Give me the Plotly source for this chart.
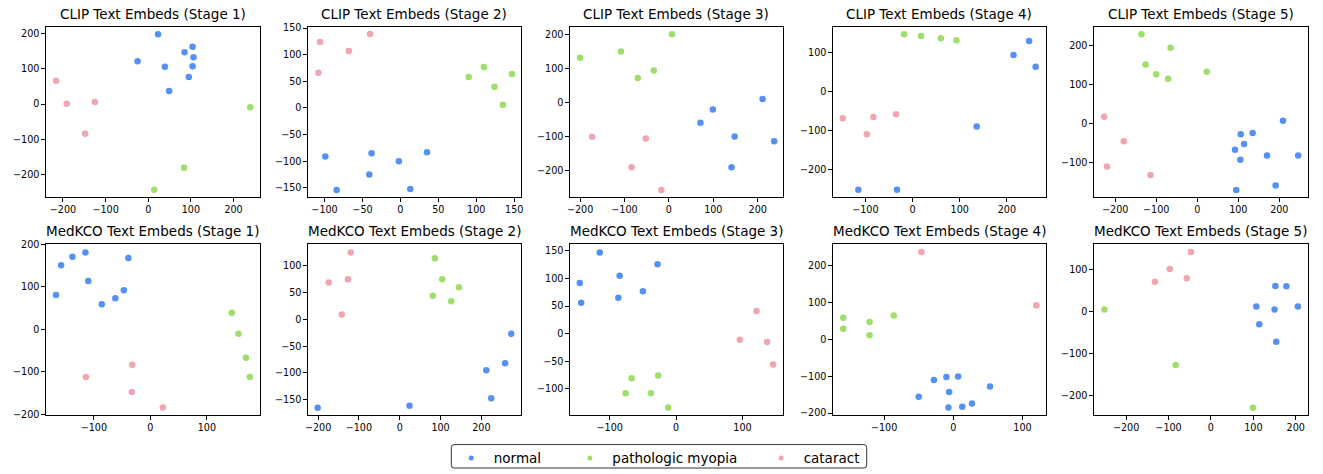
import plotly.graph_objects as go

W, H = 1323, 474
classes = ["normal", "pathologic myopia", "cataract"]
colors = ["rgba(66,133,244,0.9)", "rgba(150,218,90,0.9)", "rgba(238,155,168,0.9)"]

titles = [f"CLIP Text Embeds (Stage {i})" for i in range(1, 6)] + \
         [f"MedKCO Text Embeds (Stage {i})" for i in range(1, 6)]

# ---- CLIP Text Embeds ----
clip1_normal_x = [23, -25, 39, 85, 104, 106, 104, 95, 49]
clip1_normal_y = [197, 121, 105, 146, 162, 132, 107, 76, 37]
clip1_myopia_x = [239, 84, 14]
clip1_myopia_y = [-9, -180, -242]
clip1_cataract_x = [-216, -191, -125, -148]
clip1_cataract_y = [66, 1, 6, -84]

clip2_normal_x = [-99, -38, -41, -84, -2, 13, 35]
clip2_normal_y = [-91, -85, -125, -154, -100, -152, -83]
clip2_myopia_x = [90, 110, 124, 135, 147]
clip2_myopia_y = [58, 77, 40, 6, 64]
clip2_cataract_x = [-106, -68, -40, -108]
clip2_cataract_y = [124, 107, 139, 66]

clip3_normal_x = [211, 99, 71, 148, 237, 141]
clip3_normal_y = [10, -21, -60, -100, -114, -191]
clip3_myopia_x = [-200, -108, 7, -34, -70]
clip3_myopia_y = [132, 150, 201, 94, 72]
clip3_cataract_x = [-173, -52, -84, -17]
clip3_cataract_y = [-101, -106, -191, -258]

clip4_normal_x = [247, 214, 261, 136, -115, -33]
clip4_normal_y = [130, 94, 64, -89, -251, -251]
clip4_myopia_x = [-18, 18, 60, 93]
clip4_myopia_y = [147, 143, 137, 132]
clip4_cataract_x = [-148, -83, -35, -97]
clip4_cataract_y = [-68, -65, -58, -109]

clip5_normal_x = [209, 135, 106, 114, 92, 105, 170, 246, 191, 95]
clip5_normal_y = [7, -25, -28, -53, -68, -94, -83, -83, -160, -172]
clip5_myopia_x = [-136, -65, -126, -100, -71, 23]
clip5_myopia_y = [230, 195, 152, 127, 115, 133]
clip5_cataract_x = [-227, -179, -220, -114]
clip5_cataract_y = [17, -46, -111, -133]

# ---- MedKCO Text Embeds ----
med1_normal_x = [-167, -158, -138, -115, -110, -86, -62, -47, -39]
med1_normal_y = [81, 151, 171, 181, 114, 59, 73, 92, 168]
med1_myopia_x = [144, 156, 169, 176]
med1_myopia_y = [39, -10, -67, -112]
med1_cataract_x = [-114, -32, -33, 22]
med1_cataract_y = [-112, -83, -147, -184]

med2_normal_x = [273, 258, 212, 224, 24, -201]
med2_normal_y = [-27, -82, -95, -147, -161, -165]
med2_myopia_x = [86, 104, 145, 81, 126]
med2_myopia_y = [114, 75, 60, 44, 34]
med2_cataract_x = [-120, -174, -127, -142]
med2_cataract_y = [125, 69, 75, 9]

med3_normal_x = [-115, -145, -143, -85, -87, -50, -28]
med3_normal_y = [147, 92, 56, 105, 65, 77, 126]
med3_myopia_x = [-67, -27, -76, -38, -12]
med3_myopia_y = [-81, -76, -108, -108, -134]
med3_cataract_x = [121, 96, 137, 146]
med3_cataract_y = [41, -11, -15, -56]

med4_normal_x = [-28, -10, 7, -6, -50, 53, 27, 13, -7]
med4_normal_y = [-110, -102, -101, -143, -156, -128, -174, -183, -185]
med4_myopia_x = [-159, -159, -121, -121, -86]
med4_myopia_y = [59, 29, 47, 11, 65]
med4_cataract_x = [-46, 120]
med4_cataract_y = [237, 93]

med5_normal_x = [152, 178, 107, 150, 205, 114, 154]
med5_normal_y = [61, 60, 12, 5, 12, -30, -72]
med5_myopia_x = [-251, -83, 99]
med5_myopia_y = [5, -127, -229]
med5_cataract_x = [-47, -97, -132, -57]
med5_cataract_y = [142, 101, 71, 79]

panels = [
    [(clip1_normal_x, clip1_normal_y), (clip1_myopia_x, clip1_myopia_y), (clip1_cataract_x, clip1_cataract_y)],
    [(clip2_normal_x, clip2_normal_y), (clip2_myopia_x, clip2_myopia_y), (clip2_cataract_x, clip2_cataract_y)],
    [(clip3_normal_x, clip3_normal_y), (clip3_myopia_x, clip3_myopia_y), (clip3_cataract_x, clip3_cataract_y)],
    [(clip4_normal_x, clip4_normal_y), (clip4_myopia_x, clip4_myopia_y), (clip4_cataract_x, clip4_cataract_y)],
    [(clip5_normal_x, clip5_normal_y), (clip5_myopia_x, clip5_myopia_y), (clip5_cataract_x, clip5_cataract_y)],
    [(med1_normal_x, med1_normal_y), (med1_myopia_x, med1_myopia_y), (med1_cataract_x, med1_cataract_y)],
    [(med2_normal_x, med2_normal_y), (med2_myopia_x, med2_myopia_y), (med2_cataract_x, med2_cataract_y)],
    [(med3_normal_x, med3_normal_y), (med3_myopia_x, med3_myopia_y), (med3_cataract_x, med3_cataract_y)],
    [(med4_normal_x, med4_normal_y), (med4_myopia_x, med4_myopia_y), (med4_cataract_x, med4_cataract_y)],
    [(med5_normal_x, med5_normal_y), (med5_myopia_x, med5_myopia_y), (med5_cataract_x, med5_cataract_y)],
]

x_ranges = [[-240, 262], [-122, 159], [-223, 257], [-169, 283], [-252, 270],
            [-185, 194], [-225, 297], [-160, 161], [-174, 134], [-276, 229]]
y_ranges = [[-264, 219], [-168, 153], [-280, 224], [-271, 167], [-191, 250],
            [-202, 200], [-179, 140], [-148, 162], [-206, 258], [-247, 160]]
x_dticks = [100, 50, 100, 100, 100, 100, 100, 100, 100, 100]
y_dticks = [100, 50, 100, 100, 100, 100, 50, 50, 100, 100]

cols_px = [(43, 258), (306, 520), (569, 783), (833, 1047), (1095, 1310)]
rows_px = [(21, 196), (244, 419)]

fig = go.Figure()
layout = dict(
    width=W, height=H,
    margin=dict(l=0, r=0, t=0, b=0),
    paper_bgcolor="white", plot_bgcolor="white",
    font=dict(family="DejaVu Sans", color="black"),
    showlegend=True,
)
annotations = []
axis_common = dict(showgrid=False, zeroline=False, showline=True, mirror=True,
                   linecolor="black", linewidth=1, ticks="outside", ticklen=3.5,
                   tickwidth=0.8, tickcolor="black", tick0=0,
                   tickfont=dict(family="DejaVu Sans", size=9.6, color="black"))

for i in range(10):
    r, c = divmod(i, 5)
    k = "" if i == 0 else str(i + 1)
    x0, x1 = cols_px[c]
    yt, yb = rows_px[r]
    xd = [x0 / W, x1 / W]
    yd = [1 - yb / H, 1 - yt / H]
    layout["xaxis" + k] = dict(axis_common, domain=xd, range=x_ranges[i], dtick=x_dticks[i],
                               anchor="y" + k)
    layout["yaxis" + k] = dict(axis_common, domain=yd, range=y_ranges[i], dtick=y_dticks[i],
                               anchor="x" + k)
    for j, (xs, ys) in enumerate(panels[i]):
        fig.add_trace(go.Scatter(x=xs, y=ys, mode="markers", xaxis="x" + k, yaxis="y" + k,
                                 marker=dict(size=6.5, color=colors[j], line=dict(width=0)),
                                 name=classes[j], showlegend=False))
    annotations.append(dict(text=titles[i], x=(xd[0] + xd[1]) / 2, y=yd[1], xref="paper",
                            yref="paper", xanchor="center", yanchor="bottom", yshift=3,
                            showarrow=False, font=dict(family="DejaVu Sans", size=13.5, color="black")))

# legend: three borderless legends inside one rounded frame
legend_names = ["legend", "legend2", "legend3"]
legend_left_px = [447.5, 566.5, 758.5]
for j in range(3):
    fig.add_trace(go.Scatter(x=[None], y=[None], mode="markers", name=classes[j],
                             marker=dict(size=5, color=colors[j]), showlegend=True,
                             legend=legend_names[j]))
    layout[legend_names[j]] = dict(x=legend_left_px[j] / W, xanchor="left",
                                   y=1 - 463 / H, yanchor="middle", orientation="h",
                                   borderwidth=0, bgcolor="rgba(0,0,0,0)", itemwidth=35,
                                   font=dict(family="DejaVu Sans", size=13.5, color="black"))

bx0, bx1, by0, by1 = 450, 867, 449, 473
rad = 3
def px(x):
    return x / W
def py(y):
    return 1 - y / H
path = (f"M {px(bx0 + rad)} {py(by0)} L {px(bx1 - rad)} {py(by0)} "
        f"Q {px(bx1)} {py(by0)} {px(bx1)} {py(by0 + rad)} L {px(bx1)} {py(by1 - rad)} "
        f"Q {px(bx1)} {py(by1)} {px(bx1 - rad)} {py(by1)} L {px(bx0 + rad)} {py(by1)} "
        f"Q {px(bx0)} {py(by1)} {px(bx0)} {py(by1 - rad)} L {px(bx0)} {py(by0 + rad)} "
        f"Q {px(bx0)} {py(by0)} {px(bx0 + rad)} {py(by0)} Z")
layout["shapes"] = [dict(type="path", xref="paper", yref="paper", path=path,
                         line=dict(color="#333333", width=1), fillcolor="white", layer="below")]

layout["annotations"] = annotations
fig.update_layout(**layout)
fig.write_html("out.html", config={"displayModeBar": False},
               post_script="document.body.style.margin='0';document.body.style.padding='0';")
